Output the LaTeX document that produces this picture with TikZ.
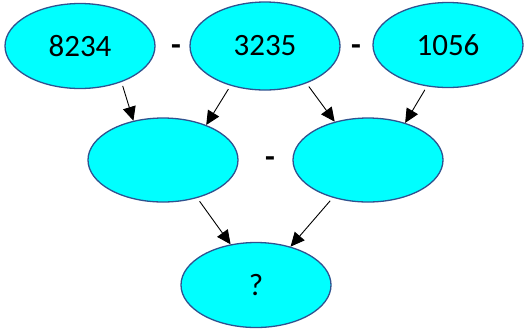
\documentclass[tikz,border=0pt]{standalone}
\usepackage{fontspec}
\setmainfont{Carlito}
\usetikzlibrary{shapes.geometric,arrows.meta}
\definecolor{cellfill}{RGB}{0,255,255}
\definecolor{cellline}{RGB}{47,82,143}
\begin{document}
\begin{tikzpicture}[x=1pt,y=-1pt]
	\tikzset{
	  cell/.style={ellipse,draw=cellline,fill=cellfill,line width=1.3pt,
		minimum width=150pt,minimum height=85pt,inner sep=0pt,
		font=\fontsize{31}{31}\selectfont},
	  op/.style={font=\fontsize{32}{32}\selectfont\bfseries,inner sep=0pt},
	  link/.style={draw=black,line width=0.9pt,shorten <=4pt,
		-{Triangle[length=14pt,width=13pt]}}
	}
	\useasboundingbox (0,0) rectangle (524,333);

        %ROW 1
        \node[cell] (n1) at (80,46) {8234};
        \node[cell,minimum height=88pt] (n2) at (265,46) {3235};
        \node[cell] (n3) at (448,45) {1056};
        \node[op] (m1) at (176,50) {-};
        \node[op] (m2) at (356,50) {-};

        %ROW 2
        \node[cell,minimum height=84pt] (d1) at (163,160) {};
        \node[cell,minimum height=84pt] (d2) at (368,160) {};
        \node[op] (m3) at (270,162) {-};

        %ROW 3
        \node[cell] (res) at (256,285) {?};

        %arrows
        \draw[link] (n1.-41.5) -- (d1.127.8);
        \draw[link] (n2.229.7) -- (d1.39.6);
        \draw[link] (n2.-42.4) -- (d2.131.5);
        \draw[link] (n3.-117.5) -- (d2.45.8);
        \draw[link] (d1.-48.5) -- (res.122.7);
        \draw[link] (d2.227) -- (res.48.8);
    \end{tikzpicture}
\end{document}
